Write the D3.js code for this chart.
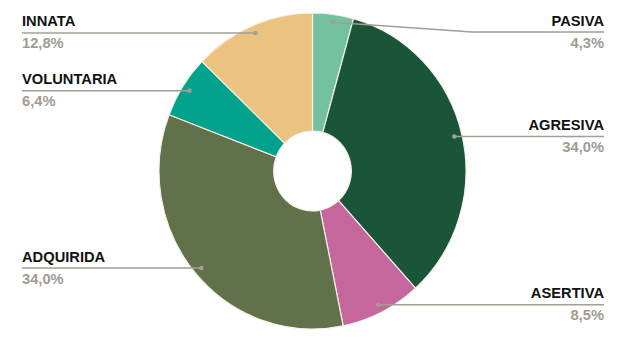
<!DOCTYPE html>
<html>
<head>
<meta charset="utf-8">
<script src="https://cdn.jsdelivr.net/npm/d3@7"></script>
<style>
  body { margin: 0; background: #fff; }
  svg text { font-family: "Liberation Sans", Arial, sans-serif; font-weight: bold; font-size: 14.7px; }
</style>
</head>
<body>
<svg id="chart" width="627" height="352"></svg>
<script>
// values, clockwise from 12 o'clock
const categories = ["PASIVA", "AGRESIVA", "ASERTIVA", "ADQUIRIDA", "VOLUNTARIA", "INNATA"];
const values = [4.3, 34.0, 8.5, 34.0, 6.4, 12.8];
const colors = ["#74c1a1", "#1a5539", "#c5669c", "#61724a", "#00a28b", "#ecc281"];

const W = 627, H = 352;
const cx = 312.5, cy = 171;
const r = 158, rIn = 40, sx = 153.5 / 158; // picture is a bit taller than wide
const labelLeft = 22, labelRight = 604, lineColor = "#a39e96";

let rows = categories.map((c, i) => ({ name: c, value: values[i], color: colors[i] }));

let pie = d3.pie().sort(null).value(d => d.value);
let arcs = pie(rows);
let arc = d3.arc().innerRadius(rIn).outerRadius(r);
let dotArc = d3.arc().innerRadius(150).outerRadius(150);

let svg = d3.select("#chart");

let g = svg.append("g")
    .attr("transform", `translate(${cx},${cy}) scale(${sx},1)`);

g.selectAll("path")
    .data(arcs)
    .enter()
    .append("path")
  .attr("d", arc)
  .style("fill", d => d.data.color)
  .style("stroke", "#f4f1e8")
  .style("stroke-width", 1.2);

let fmt = v => v.toFixed(1).replace(".", ",") + "%";

arcs.forEach(d => {
    let c = dotArc.centroid(d);
    let px = cx + c[0] * sx, py = cy + c[1];
    let right = px > cx;
    let ly = Math.max(py, 32);
    let pts;
    if (right) {
        pts = ly !== py
            ? [[px, py], [cx + r * sx + 6, ly], [labelRight, ly]]
            : [[px, py], [labelRight, ly]];
    } else {
        pts = [[px, py], [labelLeft, ly]];
    }
    svg.append("path")
        .attr("d", d3.line()(pts))
        .style("fill", "none")
        .style("stroke", lineColor)
        .style("stroke-width", 1.5);
    svg.append("circle")
        .attr("cx", px).attr("cy", py).attr("r", 2.3)
        .style("fill", lineColor);

    let tx = right ? labelRight : labelLeft;
    let anchor = right ? "end" : "start";
    svg.append("text")
        .attr("x", tx).attr("y", ly - 6.5)
        .attr("text-anchor", anchor)
        .style("fill", "#111")
        .text(d.data.name);
    svg.append("text")
        .attr("x", tx).attr("y", ly + 15.5)
        .attr("text-anchor", anchor)
        .style("fill", "#a19b92")
        .text(fmt(d.data.value));
});
</script>
</body>
</html>
